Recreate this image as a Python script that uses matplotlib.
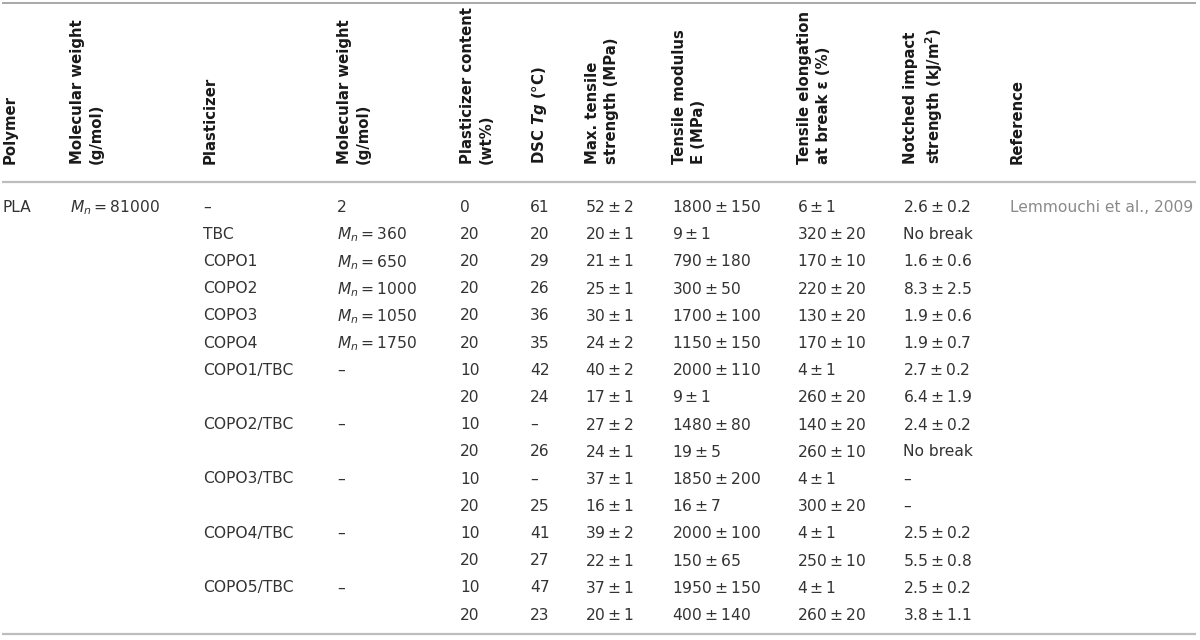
import matplotlib
matplotlib.use("Agg")
import matplotlib.pyplot as plt

plt.rcParams['font.family'] = ['DejaVu Sans']
plt.rcParams['mathtext.fontset'] = 'dejavusans'

headers = [
    "Polymer",
    "Molecular weight\n(g/mol)",
    "Plasticizer",
    "Molecular weight\n(g/mol)",
    "Plasticizer content\n(wt%)",
    "DSC $\\mathbfit{Tg}$ (°C)",
    "Max. tensile\nstrength (MPa)",
    "Tensile modulus\nE (MPa)",
    "Tensile elongation\nat break ε (%)",
    "Notched impact\nstrength (kJ/m$^\\mathbf{2}$)",
    "Reference",
]

polymer = ["PLA"] + [""] * 15
polymer_mw = ["$M_n = 81000$"] + [""] * 15
plasticizer = ["–", "TBC", "COPO1", "COPO2", "COPO3", "COPO4",
               "COPO1/TBC", "", "COPO2/TBC", "", "COPO3/TBC", "",
               "COPO4/TBC", "", "COPO5/TBC", ""]
plasticizer_mw = ["2", "$M_n = 360$", "$M_n = 650$", "$M_n = 1000$",
                  "$M_n = 1050$", "$M_n = 1750$",
                  "–", "", "–", "", "–", "", "–", "", "–", ""]
content = ["0", "20", "20", "20", "20", "20",
           "10", "20", "10", "20", "10", "20", "10", "20", "10", "20"]
tg = ["61", "20", "29", "26", "36", "35",
      "42", "24", "–", "26", "–", "25", "41", "27", "47", "23"]
tensile = ["52 ± 2", "20 ± 1", "21 ± 1", "25 ± 1", "30 ± 1", "24 ± 2",
           "40 ± 2", "17 ± 1", "27 ± 2", "24 ± 1", "37 ± 1", "16 ± 1",
           "39 ± 2", "22 ± 1", "37 ± 1", "20 ± 1"]
modulus = ["1800 ± 150", "9 ± 1", "790 ± 180", "300 ± 50", "1700 ± 100",
           "1150 ± 150", "2000 ± 110", "9 ± 1", "1480 ± 80", "19 ± 5",
           "1850 ± 200", "16 ± 7", "2000 ± 100", "150 ± 65", "1950 ± 150",
           "400 ± 140"]
elongation = ["6 ± 1", "320 ± 20", "170 ± 10", "220 ± 20", "130 ± 20",
              "170 ± 10", "4 ± 1", "260 ± 20", "140 ± 20", "260 ± 10",
              "4 ± 1", "300 ± 20", "4 ± 1", "250 ± 10", "4 ± 1", "260 ± 20"]
impact = ["2.6 ± 0.2", "No break", "1.6 ± 0.6", "8.3 ± 2.5", "1.9 ± 0.6",
          "1.9 ± 0.7", "2.7 ± 0.2", "6.4 ± 1.9", "2.4 ± 0.2", "No break",
          "–", "–", "2.5 ± 0.2", "5.5 ± 0.8", "2.5 ± 0.2", "3.8 ± 1.1"]
reference = ["Lemmouchi et al., 2009"] + [""] * 15

columns = [polymer, polymer_mw, plasticizer, plasticizer_mw, content, tg,
           tensile, modulus, elongation, impact, reference]

col_x = [3, 70, 203, 337, 460, 530, 585, 672, 797, 903, 1010]
row_y0 = 205.5
row_dy = 27.2
header_bottom = 164

fig = plt.figure(figsize=(12, 6.4), dpi=100)
ax = fig.add_axes([0, 0, 1, 1])
ax.set_xlim(0, 1200)
ax.set_ylim(640, 0)
ax.axis("off")

# rules
ax.plot([2, 1196], [3, 3], color="#9a9a9a", lw=1.2, solid_capstyle="butt")
ax.plot([2, 1196], [182, 182], color="#bdbdbd", lw=1.6, solid_capstyle="butt")
ax.plot([2, 1196], [634, 634], color="#bdbdbd", lw=1.6, solid_capstyle="butt")

for x, h in zip(col_x, headers):
    ax.text(x, header_bottom, h, rotation=90, rotation_mode="anchor",
            ha="left", va="top", fontsize=10.7, fontweight="bold",
            color="#1a1a1a", linespacing=1.3, multialignment="left")


def fmt(s):
    if "±" in s:
        a, b = s.split(" ± ")
        return "$%s \\pm %s$" % (a, b)
    return s


for ci, (x, col) in enumerate(zip(col_x, columns)):
    for ri, val in enumerate(col):
        if not val:
            continue
        color = "#8a8a8a" if ci == 10 else "#333333"
        ax.text(x, row_y0 + ri * row_dy, fmt(val), ha="left", va="center_baseline",
                fontsize=11.2, color=color)

fig.savefig("out.png", dpi=100)
